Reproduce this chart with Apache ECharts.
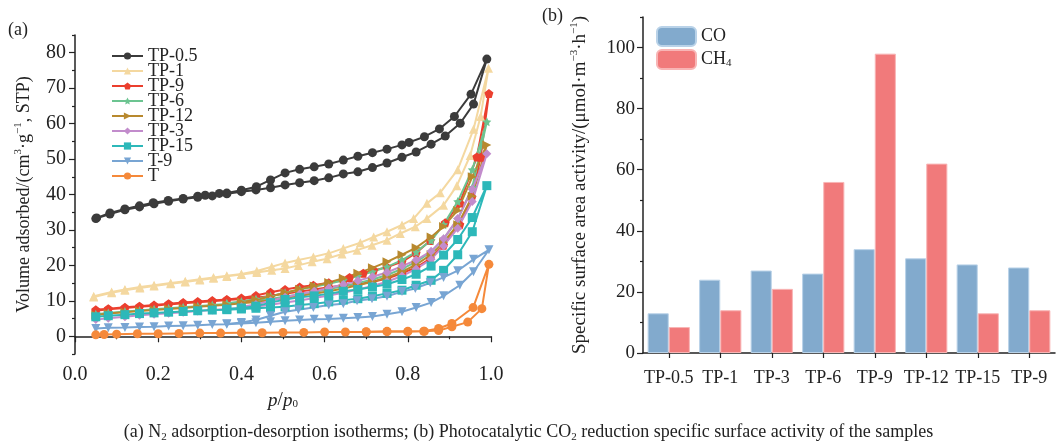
<!DOCTYPE html>
<html style="height: 100%">
<head>
  <meta charset="UTF-8">
  <title>ECharts</title>
  <script src="https://cdn.jsdelivr.net/npm/echarts@6/dist/echarts.min.js"></script>
</head>
<body style="height: 100%; margin: 0; background: #fff">
<div id="main" style="width: 1057px; height: 448px"></div>

<script>
  // (a) N2 isotherms, [p/p0, volume]; adsorption then desorption branch
  const tp05Ads = [[0.05,33.2],[0.084,34.5],[0.12,35.7],[0.155,36.5],[0.19,37.4],[0.225,38.1],[0.26,38.7],[0.295,39.2],[0.33,39.6],[0.365,40.2],[0.4,40.8],[0.435,41.3],[0.47,41.9],[0.505,42.7],[0.54,43.3],[0.575,43.9],[0.61,44.7],[0.645,45.8],[0.68,46.4],[0.715,47.6],[0.75,48.9],[0.786,50.5],[0.82,52],[0.856,54.2],[0.89,56.5],[0.926,60.1],[0.958,65.5],[0.99,78.2]];
  const tp05Des = [[0.952,68.3],[0.912,62],[0.876,58.5],[0.84,56.3],[0.803,54.7],[0.786,54],[0.75,52.8],[0.715,51.8],[0.68,50.8],[0.645,49.7],[0.61,48.6],[0.575,47.8],[0.54,47.1],[0.505,46.1],[0.47,44.1],[0.436,42.2],[0.4,41.2],[0.365,40.4],[0.347,40.3],[0.313,39.8],[0.295,39.5],[0.26,38.9],[0.224,38.3],[0.188,37.7],[0.155,36.8],[0.12,35.9],[0.084,34.8],[0.052,33.4]];
  const tp1Ads = [[0.045,11.1],[0.088,12.3],[0.12,13],[0.156,13.6],[0.19,14.2],[0.23,14.8],[0.265,15.3],[0.3,15.9],[0.333,16.4],[0.365,16.9],[0.4,17.4],[0.437,18],[0.473,18.6],[0.505,19.1],[0.537,20],[0.57,21],[0.606,21.9],[0.642,23.2],[0.678,24.3],[0.714,25.7],[0.75,27.1],[0.782,29],[0.818,30.9],[0.846,33.2],[0.886,37],[0.918,42.5],[0.95,51],[0.975,62],[0.994,75.6]];
  const tp1Des = [[0.958,58.4],[0.92,47],[0.878,40.5],[0.846,37.5],[0.814,33.2],[0.786,31.4],[0.75,29.5],[0.718,28],[0.686,26.4],[0.645,24.8],[0.61,23.4],[0.573,22.4],[0.537,21.5],[0.505,20.7],[0.473,19.6],[0.437,18.4],[0.4,17.6],[0.365,17.1],[0.333,16.6],[0.3,16.1],[0.265,15.5],[0.23,15],[0.19,14.4],[0.156,13.9],[0.12,13.2],[0.088,12.5],[0.045,11.3]];
  const tp9Ads = [[0.05,7.2],[0.08,7.6],[0.12,8],[0.155,8.3],[0.19,8.6],[0.225,9],[0.26,9.3],[0.295,9.6],[0.33,9.9],[0.365,10.2],[0.4,10.5],[0.435,10.9],[0.47,11.4],[0.505,12],[0.54,12.6],[0.575,13.2],[0.61,13.8],[0.645,14.3],[0.678,14.7],[0.714,15.3],[0.75,16.3],[0.786,17.8],[0.82,19.4],[0.854,21.9],[0.886,25.7],[0.925,31.5],[0.954,39.3],[0.975,50.5],[0.995,68.5]];
  const tp9Des = [[0.966,50.6],[0.925,37.6],[0.89,32],[0.854,27],[0.82,23.5],[0.786,21],[0.75,19.5],[0.718,18.6],[0.693,17.8],[0.66,16.6],[0.645,15.8],[0.61,15.1],[0.573,14.4],[0.54,13.9],[0.505,13.2],[0.47,12.4],[0.435,11.5],[0.4,10.8],[0.365,10.4],[0.33,10.1],[0.295,9.8],[0.26,9.5],[0.225,9.2],[0.19,8.8],[0.155,8.5],[0.12,8.2],[0.08,7.8],[0.05,7.5]];
  const tp6Ads = [[0.05,6.2],[0.08,6.6],[0.12,7],[0.155,7.3],[0.19,7.6],[0.225,7.9],[0.26,8.2],[0.295,8.5],[0.33,8.8],[0.365,9.1],[0.4,9.5],[0.435,10],[0.47,10.5],[0.505,11.2],[0.54,11.8],[0.575,12.5],[0.61,13.3],[0.645,14.1],[0.68,15],[0.715,16],[0.75,17.3],[0.786,19],[0.82,21],[0.856,23.8],[0.886,27.5],[0.92,33],[0.955,42],[0.99,60.5]];
  const tp6Des = [[0.955,47],[0.92,38],[0.886,31.5],[0.856,27],[0.82,23.8],[0.786,21.5],[0.75,19.6],[0.715,18.2],[0.68,17],[0.645,15.8],[0.61,14.8],[0.575,14],[0.54,13.2],[0.505,12.3],[0.47,11.3],[0.435,10.5],[0.4,9.8],[0.365,9.3]];
  const tp12Ads = [[0.05,6],[0.08,6.4],[0.12,6.8],[0.155,7.1],[0.19,7.4],[0.225,7.7],[0.26,8],[0.295,8.3],[0.33,8.6],[0.365,8.9],[0.4,9.3],[0.435,9.7],[0.47,10.2],[0.505,10.8],[0.54,11.4],[0.575,12],[0.61,12.7],[0.645,13.5],[0.68,14.4],[0.715,15.4],[0.75,16.6],[0.786,18.2],[0.82,20.2],[0.856,23],[0.886,26.5],[0.92,31.5],[0.955,39.5],[0.99,54]];
  const tp12Des = [[0.955,45],[0.92,35.5],[0.886,31],[0.856,28],[0.82,25],[0.786,23],[0.75,21],[0.715,19.3],[0.68,17.8],[0.645,16.4],[0.61,15.2],[0.575,14.2],[0.54,13.3],[0.505,12.3],[0.47,11.2],[0.435,10.3],[0.4,9.6]];
  const tp3Ads = [[0.05,4.7],[0.08,5.1],[0.12,5.5],[0.155,5.9],[0.19,6.2],[0.225,6.5],[0.26,6.8],[0.295,7.1],[0.33,7.4],[0.365,7.7],[0.4,8],[0.435,8.4],[0.47,8.9],[0.505,9.5],[0.54,10.1],[0.575,10.8],[0.61,11.5],[0.645,12.3],[0.68,13.2],[0.715,14.2],[0.75,15.4],[0.786,17],[0.82,19],[0.856,21.7],[0.886,25.5],[0.92,30.5],[0.955,38],[0.99,51.5]];
  const tp3Des = [[0.955,41.5],[0.92,33.2],[0.886,27.5],[0.856,24],[0.82,21.5],[0.786,19.8],[0.75,18],[0.715,16.8],[0.68,15.7],[0.645,14.6],[0.61,13.6],[0.575,12.7],[0.54,11.9],[0.505,11],[0.47,10],[0.435,9],[0.4,8.3]];
  const tp15Ads = [[0.05,5.5],[0.08,5.8],[0.12,6.1],[0.155,6.4],[0.19,6.6],[0.225,6.8],[0.26,7],[0.295,7.2],[0.33,7.4],[0.365,7.5],[0.4,7.7],[0.435,7.9],[0.47,8.1],[0.505,8.3],[0.54,8.8],[0.575,9.2],[0.61,9.7],[0.645,10.2],[0.68,10.6],[0.715,11.3],[0.75,12.1],[0.786,13],[0.82,14.4],[0.856,15.8],[0.886,18.6],[0.92,23],[0.955,29.5],[0.99,42.5]];
  const tp15Des = [[0.955,33.5],[0.92,27.3],[0.886,22.9],[0.856,19.8],[0.82,17.5],[0.786,16],[0.75,14.7],[0.715,13.9],[0.68,13.2],[0.645,12.7],[0.61,12],[0.575,11.4],[0.54,11],[0.505,10.4],[0.47,9.5],[0.435,8.5],[0.4,8],[0.365,7.7]];
  const t9Ads = [[0.05,2.2],[0.08,2.4],[0.12,2.5],[0.155,2.6],[0.19,2.7],[0.225,2.9],[0.26,3],[0.295,3.1],[0.33,3.3],[0.365,3.4],[0.4,3.6],[0.435,3.8],[0.47,4.1],[0.505,4.4],[0.54,4.6],[0.575,4.8],[0.61,4.9],[0.645,5.1],[0.68,5.3],[0.715,5.6],[0.75,6.2],[0.786,6.9],[0.82,8.1],[0.856,9.5],[0.886,11.4],[0.925,14.4],[0.958,18.2],[0.995,24.4]];
  const t9Des = [[0.958,21.7],[0.92,18.5],[0.886,16.6],[0.854,15.1],[0.818,13.5],[0.786,12.6],[0.75,11.3],[0.714,10.6],[0.678,10],[0.645,9.2],[0.61,8.8],[0.573,8.1],[0.537,7.5],[0.505,6.9],[0.47,5.8],[0.435,4.6],[0.4,3.9],[0.365,3.5]];
  const tAds = [[0.05,0.4],[0.07,0.5],[0.1,0.6],[0.15,0.7],[0.2,0.7],[0.25,0.8],[0.3,0.9],[0.35,0.9],[0.4,1],[0.45,1],[0.5,1.1],[0.55,1.1],[0.6,1.2],[0.65,1.2],[0.7,1.2],[0.75,1.3],[0.8,1.3],[0.84,1.4],[0.874,1.6],[0.906,2.7],[0.944,4],[0.978,7.8],[0.995,20.3]];
  const tDes = [[0.957,8.1],[0.906,3.6],[0.874,2.2],[0.838,1.4],[0.8,1.4],[0.75,1.4],[0.7,1.3]];

  // (b) specific surface activity
  const samples = ['TP-0.5', 'TP-1', 'TP-3', 'TP-6', 'TP-9', 'TP-12', 'TP-15', 'TP-9'];
  const coValues = [13, 24, 27, 26, 34, 31, 29, 28];
  const ch4Values = [8.5, 14, 21, 56, 98, 62, 13, 14];

  // tick labels
  const yTicksA = [0, 10, 20, 30, 40, 50, 60, 70, 80];
  const yMinorA = [-5, 5, 15, 25, 35, 45, 55, 65, 75, 85];
  const yTicksB = [0, 20, 40, 60, 80, 100];
  const yMinorB = [10, 30, 50, 70, 90, 110];

  const serif = 'Liberation Serif';
  const ink = '#222';
  const supSub = {
    sup: {fontFamily: serif, fontSize: 11, verticalAlign: 'top', color: ink},
    sub: {fontFamily: serif, fontSize: 11, verticalAlign: 'bottom', color: ink},
    it: {fontFamily: serif, fontSize: 19, fontStyle: 'italic', color: ink}
  };

  const star = 'path://M0,-10L2.9,-4L9.5,-3.1L4.7,1.5L5.9,8.1L0,5L-5.9,8.1L-4.7,1.5L-9.5,-3.1L-2.9,-4Z';
  const pentagon = 'path://M0,-10L9.5,-3.1L5.9,8.1L-5.9,8.1L-9.5,-3.1Z';

  const isotherms = [
    {name: 'TP-0.5', color: '#3b3b3b', symbol: 'circle', rot: 0, data: tp05Ads.concat(tp05Des)},
    {name: 'TP-1', color: '#f4d8a0', symbol: 'triangle', rot: 0, data: tp1Ads.concat(tp1Des)},
    {name: 'TP-9', color: '#eb3f2e', symbol: pentagon, rot: 0, data: tp9Ads.concat(tp9Des)},
    {name: 'TP-6', color: '#6cc491', symbol: star, rot: 0, data: tp6Ads.concat(tp6Des)},
    {name: 'TP-12', color: '#b8892e', symbol: 'triangle', rot: -90, data: tp12Ads.concat(tp12Des)},
    {name: 'TP-3', color: '#c28ccc', symbol: 'diamond', rot: 0, data: tp3Ads.concat(tp3Des)},
    {name: 'TP-15', color: '#2db8b9', symbol: 'rect', rot: 0, data: tp15Ads.concat(tp15Des)},
    {name: 'T-9', color: '#78a5d3', symbol: 'triangle', rot: 180, data: t9Ads.concat(t9Des)},
    {name: 'T', color: '#f5893a', symbol: 'circle', rot: 0, data: tAds.concat(tDes)}
  ];

  const lineSeries = isotherms.map(s => ({
    name: s.name,
    type: 'line',
    xAxisIndex: 0,
    yAxisIndex: 0,
    data: s.data,
    symbol: s.symbol,
    symbolRotate: s.rot,
    symbolSize: 9,
    showAllSymbol: true,
    color: s.color,
    lineStyle: {width: 2},
    animation: false
  }));

  const axisLine = {show: true, lineStyle: {color: ink, width: 1.5}};
  const tickStyle = {lineStyle: {color: ink, width: 1.2}};

  let option = {
    backgroundColor: '#fff',
    textStyle: {fontFamily: serif},
    grid: [
      {left: 75, top: 35, width: 416, height: 319},
      {left: 643, top: 17, width: 412, height: 336}
    ],
    legend: [
      {
        orient: 'vertical',
        left: 106,
        top: 42,
        itemWidth: 31,
        itemHeight: 9,
        itemGap: -3,
        textStyle: {fontFamily: serif, fontSize: 18, color: ink, lineHeight: 15},
        data: isotherms.map(s => s.name)
      },
      {
        orient: 'vertical',
        left: 651,
        top: 21,
        itemWidth: 39,
        itemHeight: 19,
        itemGap: 2,
        textStyle: {fontFamily: serif, fontSize: 18, color: ink, rich: supSub},
        formatter: name => name === 'CH4' ? 'CH{sub|4}' : name,
        data: ['CO', 'CH4']
      }
    ],
    xAxis: [
      {
        type: 'value', gridIndex: 0, min: 0, max: 1, interval: 0.2,
        axisLine: axisLine,
        axisTick: {show: true, length: 6, ...tickStyle},
        minorTick: {show: true, splitNumber: 2, length: 3, ...tickStyle},
        splitLine: {show: false},
        axisLabel: {fontFamily: serif, fontSize: 20, color: ink, margin: 11, formatter: v => v.toFixed(1)},
        name: '{it|p}/{it|p}{sub|0}',
        nameLocation: 'middle',
        nameGap: 37,
        nameTextStyle: {fontFamily: serif, fontSize: 19, color: ink, rich: supSub}
      },
      {
        type: 'category', gridIndex: 1, data: samples,
        axisLine: axisLine,
        axisTick: {show: true, alignWithLabel: true, length: 5, ...tickStyle},
        axisLabel: {fontFamily: serif, fontSize: 18, color: ink, margin: 16, interval: 0}
      }
    ],
    yAxis: [
      {
        type: 'value', gridIndex: 0, position: 'left', min: -5, max: 85,
        axisLine: axisLine,
        axisTick: {show: true, length: 6, customValues: yTicksA, ...tickStyle},
        axisLabel: {fontFamily: serif, fontSize: 20, color: ink, margin: 9, customValues: yTicksA},
        splitLine: {show: false},
        name: 'Volume adsorbed/(cm{sup|3}·g{sup|−1}, STP)',
        nameLocation: 'middle',
        nameGap: 40,
        nameTextStyle: {fontFamily: serif, fontSize: 18, color: ink, lineHeight: 22, rich: supSub}
      },
      {
        type: 'value', gridIndex: 0, position: 'left', min: -5, max: 85,
        axisLine: {show: false},
        axisTick: {show: true, length: 3, customValues: yMinorA, ...tickStyle},
        axisLabel: {show: false},
        splitLine: {show: false}
      },
      {
        type: 'value', gridIndex: 1, position: 'left', min: 0, max: 110,
        axisLine: axisLine,
        axisTick: {show: true, length: 6, customValues: yTicksB, ...tickStyle},
        axisLabel: {fontFamily: serif, fontSize: 19, color: ink, margin: 8, customValues: yTicksB},
        splitLine: {show: false},
        name: 'Specific surface area activity/(μmol·m{sup|−3}·h{sup|−1})',
        nameLocation: 'middle',
        nameGap: 52,
        nameTextStyle: {fontFamily: serif, fontSize: 19, color: ink, lineHeight: 22, rich: supSub}
      },
      {
        type: 'value', gridIndex: 1, position: 'left', min: 0, max: 110,
        axisLine: {show: false},
        axisTick: {show: true, length: 3, customValues: yMinorB, ...tickStyle},
        axisLabel: {show: false},
        splitLine: {show: false}
      }
    ],
    graphic: [
      {type: 'text', left: 8, top: 21, style: {text: '(a)', font: '18px "Liberation Serif"', fill: ink}},
      {type: 'text', left: 542, top: 7, style: {text: '(b)', font: '18px "Liberation Serif"', fill: ink}},
      {
        type: 'text', left: 'center', top: 421,
        style: {
          text: '(a) N{sub|2} adsorption-desorption isotherms; (b) Photocatalytic CO{sub|2} reduction specific surface activity of the samples',
          font: '18px "Liberation Serif"',
          fill: ink,
          lineHeight: 22,
          rich: {sub: {fontFamily: serif, fontSize: 11, verticalAlign: 'bottom', fill: ink}}
        }
      }
    ],
    series: lineSeries.concat([
      {
        name: 'CO', type: 'bar', xAxisIndex: 1, yAxisIndex: 2, data: coValues,
        barGap: '0%', barCategoryGap: '18%',
        itemStyle: {color: '#82aacd', borderColor: '#b9d2e8', borderWidth: 1},
        animation: false
      },
      {
        name: 'CH4', type: 'bar', xAxisIndex: 1, yAxisIndex: 2, data: ch4Values,
        barGap: '0%', barCategoryGap: '18%',
        itemStyle: {color: '#f17a7b', borderColor: '#f8b5b5', borderWidth: 1},
        animation: false
      }
    ])
  };

  let chart = echarts.init(document.getElementById('main'));
  chart.setOption(option);
</script>
</body>
</html>
